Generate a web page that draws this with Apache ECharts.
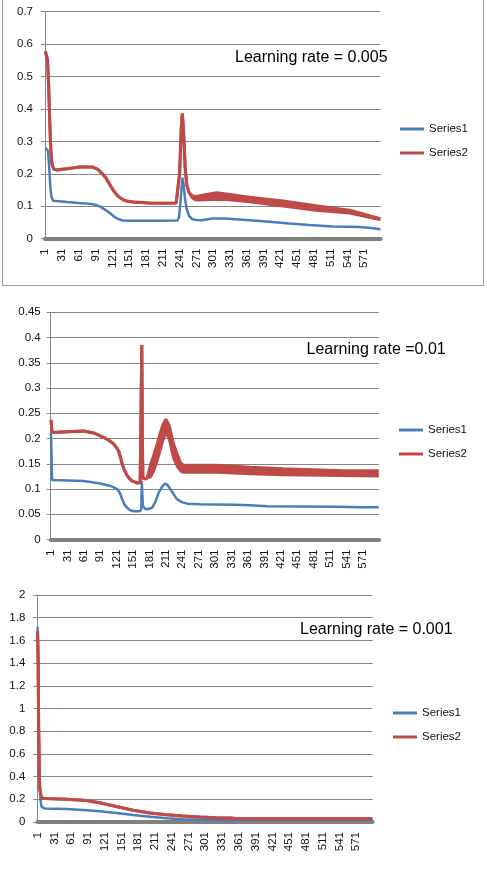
<!DOCTYPE html>
<html><head><meta charset="utf-8">
<script src="https://cdn.jsdelivr.net/npm/echarts/dist/echarts.min.js"></script>
<style>html,body{margin:0;padding:0;background:#fff}#c{width:487px;height:878px}</style>
</head><body><div id="c"></div>
<script>
// ---- data ----
const categoryCount = 600;
const categories = [];
for (let i = 1; i <= categoryCount; i++) categories.push(String(i));

const titles = ['Learning rate = 0.005', 'Learning rate =0.01', 'Learning rate = 0.001'];
const legendNames = ['Series1', 'Series2'];
const yMaxes = [0.7, 0.45, 2];
const yIntervals = [0.1, 0.05, 0.2];

// [iteration, value]
const lr005Series1 = [[1,0.28],[4,0.278],[6,0.27],[8,0.22],[10,0.16],[12,0.13],[15,0.117],[18,0.113],[40,0.113],[60,0.11],[80,0.108],[92,0.104],[100,0.098],[110,0.087],[118,0.077],[125,0.067],[132,0.06],[140,0.056],[150,0.055],[200,0.055],[237,0.056],[240,0.065],[243,0.12],[246,0.188],[248,0.17],[251,0.12],[254,0.09],[258,0.07],[264,0.06],[271,0.058],[280,0.057],[300,0.062],[320,0.062],[348,0.059],[396,0.053],[437,0.047],[473,0.042],[515,0.038],[562,0.036],[580,0.034],[600,0.029]];
// [iteration, lower, upper]  (Series2 oscillates between lower and upper)
const lr005Series2 = [[1,0.578,0.578],[3,0.573,0.573],[5,0.553,0.553],[7,0.47,0.47],[9,0.36,0.36],[11,0.27,0.27],[13,0.23,0.23],[16,0.215,0.215],[21,0.212,0.212],[40,0.216,0.216],[62,0.221,0.221],[86,0.221,0.221],[95,0.214,0.214],[103,0.2,0.2],[110,0.186,0.186],[117,0.165,0.165],[123,0.148,0.148],[130,0.133,0.133],[138,0.122,0.122],[146,0.116,0.116],[158,0.113,0.113],[187,0.11,0.11],[217,0.109,0.109],[235,0.11,0.11],[238,0.115,0.115],[241,0.2,0.2],[244,0.34,0.34],[246,0.386,0.386],[248,0.335,0.335],[251,0.22,0.22],[254,0.165,0.165],[258,0.142,0.142],[264,0.126,0.132],[271,0.119,0.13],[289,0.12,0.136],[307,0.122,0.142],[325,0.121,0.138],[366,0.114,0.128],[426,0.101,0.116],[485,0.088,0.102],[545,0.079,0.088],[574,0.068,0.074],[600,0.058,0.062]];

const lr01Series1 = [[1,0.212],[2,0.17],[3,0.118],[5,0.117],[61,0.116],[91,0.111],[110,0.106],[122,0.1],[127,0.092],[131,0.08],[136,0.068],[140,0.063],[146,0.058],[152,0.056],[164,0.056],[166,0.06],[167,0.116],[168,0.09],[169,0.066],[173,0.061],[177,0.06],[186,0.063],[192,0.075],[198,0.093],[205,0.106],[210,0.111],[214,0.108],[219,0.1],[225,0.09],[231,0.08],[240,0.074],[250,0.071],[274,0.07],[335,0.069],[365,0.068],[396,0.066],[518,0.065],[567,0.064],[600,0.064]];
const lr01Series2 = [[1,0.237,0.237],[2,0.235,0.235],[3,0.212,0.212],[5,0.215,0.215],[61,0.215,0.215],[79,0.211,0.211],[98,0.202,0.202],[110,0.194,0.194],[116,0.189,0.189],[122,0.18,0.18],[125,0.174,0.174],[128,0.163,0.163],[131,0.15,0.15],[135,0.138,0.138],[140,0.127,0.127],[145,0.12,0.12],[149,0.116,0.116],[158,0.112,0.112],[164,0.113,0.113],[166,0.115,0.115],[167,0.385,0.385],[168,0.2,0.2],[169,0.122,0.122],[173,0.12,0.12],[177,0.122,0.122],[183,0.124,0.148],[189,0.137,0.168],[195,0.156,0.189],[200,0.175,0.208],[205,0.195,0.226],[211,0.212,0.238],[217,0.2,0.226],[225,0.162,0.189],[232,0.145,0.168],[238,0.136,0.152],[243,0.133,0.147],[305,0.133,0.147],[365,0.13,0.143],[425,0.128,0.14],[535,0.127,0.136],[600,0.126,0.136]];

const lr001Series1 = [[1,1.72],[2,1.5],[3,0.9],[4,0.45],[6,0.2],[8,0.135],[11,0.122],[14,0.118],[53,0.115],[88,0.103],[112,0.094],[142,0.08],[172,0.062],[202,0.047],[232,0.034],[261,0.025],[291,0.019],[351,0.016],[450,0.015],[600,0.015]];
const lr001Series2 = [[1,1.68,1.68],[2,1.4,1.4],[3,0.8,0.8],[4,0.45,0.45],[5,0.3,0.3],[7,0.23,0.23],[10,0.21,0.21],[14,0.206,0.206],[53,0.2,0.2],[88,0.19,0.19],[112,0.17,0.17],[142,0.137,0.137],[172,0.104,0.104],[202,0.08,0.08],[232,0.064,0.064],[261,0.052,0.052],[291,0.043,0.043],[320,0.038,0.038],[345,0.035,0.035],[360,0.028,0.028],[450,0.028,0.028],[600,0.028,0.028]];

// ---- layout / style ----
const BLUE = '#4a7ebb', RED = '#be4b48';
const FONT = "'Liberation Sans', Arial, sans-serif";
const grids = [
  {left: 45, top: 11.7, width: 335.7, height: 227},
  {left: 50.7, top: 312.3, width: 328.3, height: 227.2},
  {left: 37.3, top: 595, width: 335.4, height: 227}
];
const titlePos = [{left: 235, top: 50}, {left: 306.5, top: 342}, {left: 300, top: 622}];
const legendPos = [{left: 400, top: 122}, {left: 399, top: 423}, {left: 393, top: 706}];
const yLabelMargin = [12, 10, 12];

const s1All = [lr005Series1, lr01Series1, lr001Series1];
const s2All = [lr005Series2, lr01Series2, lr001Series2];

const xAxes = [], yAxes = [], series = [], titleArr = [], legends = [];
for (let k = 0; k < 3; k++) {
  xAxes.push({
    type: 'category', gridIndex: k, data: categories, boundaryGap: true,
    axisLine: {lineStyle: {color: '#808080', width: 4}},
    axisTick: {show: false},
    axisLabel: {interval: 29, rotate: 90, margin: 10, fontSize: 11.5, color: '#111', fontFamily: FONT},
    splitLine: {show: false}
  });
  yAxes.push({
    type: 'value', gridIndex: k, min: 0, max: yMaxes[k], interval: yIntervals[k],
    axisLine: {show: true, lineStyle: {color: '#868686', width: 1}},
    axisTick: {show: true, length: 4, lineStyle: {color: '#868686'}},
    axisLabel: {margin: yLabelMargin[k], fontSize: 11.5, color: '#111', fontFamily: FONT},
    splitLine: {show: true, lineStyle: {color: '#868686', width: 1}}
  });
  titleArr.push({
    text: titles[k], left: titlePos[k].left, top: titlePos[k].top, padding: 0,
    textStyle: {fontSize: 16, fontWeight: 'normal', color: '#000', fontFamily: FONT}
  });
  legends.push({
    data: legendNames, orient: 'vertical', left: legendPos[k].left, top: legendPos[k].top,
    padding: 0, itemGap: 10, itemWidth: 24, itemHeight: 3, icon: 'rect',
    selectedMode: false,
    textStyle: {fontSize: 11.5, color: '#111', fontFamily: FONT, lineHeight: 14}
  });
  const s1 = s1All[k], s2 = s2All[k];
  series.push({
    name: 'Series1', type: 'line', xAxisIndex: k, yAxisIndex: k,
    data: s1.map(p => [String(p[0]), p[1]]), symbol: 'none', showSymbol: false,
    lineStyle: {color: BLUE, width: 2.5}, itemStyle: {color: BLUE}, z: 2
  });
  series.push({
    name: 'band' + k + 'base', type: 'line', xAxisIndex: k, yAxisIndex: k, stack: 'band' + k,
    data: s2.map(p => [String(p[0]), p[1]]), symbol: 'none', showSymbol: false, silent: true,
    lineStyle: {width: 0, opacity: 0}, z: 3
  });
  series.push({
    name: 'band' + k + 'fill', type: 'line', xAxisIndex: k, yAxisIndex: k, stack: 'band' + k,
    data: s2.map(p => [String(p[0]), p[2] - p[1]]), symbol: 'none', showSymbol: false, silent: true,
    lineStyle: {width: 0, opacity: 0}, areaStyle: {color: RED, opacity: 1}, z: 3
  });
  series.push({
    name: 'Series2', type: 'line', xAxisIndex: k, yAxisIndex: k,
    data: s2.map(p => [String(p[0]), p[1]]), symbol: 'none', showSymbol: false,
    lineStyle: {color: RED, width: 3}, itemStyle: {color: RED}, z: 4
  });
  series.push({
    name: 'Series2 upper', type: 'line', xAxisIndex: k, yAxisIndex: k,
    data: s2.map(p => [String(p[0]), p[2]]), symbol: 'none', showSymbol: false,
    lineStyle: {color: RED, width: 3}, itemStyle: {color: RED}, z: 4
  });
}

const chart = echarts.init(document.getElementById('c'), null, {renderer: 'canvas'});
chart.setOption({
  animation: false,
  backgroundColor: '#fff',
  title: titleArr,
  legend: legends,
  grid: grids,
  xAxis: xAxes,
  yAxis: yAxes,
  series: series,
  graphic: [{
    type: 'rect', silent: true,
    shape: {x: 2.5, y: -3, width: 481, height: 288.5},
    style: {fill: null, stroke: '#9a9a9a', lineWidth: 1}
  }]
});
</script></body></html>
